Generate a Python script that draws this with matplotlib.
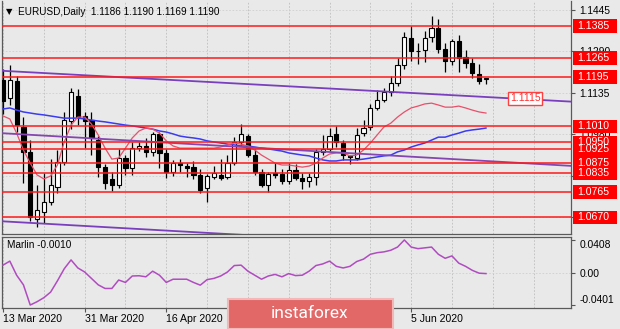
import matplotlib
matplotlib.use("Agg")
import matplotlib.pyplot as plt
import matplotlib.transforms as mtrans
from matplotlib.patches import Rectangle
import numpy as np

plt.rcParams['font.family'] = ['Liberation Sans', 'DejaVu Sans']

# ---- data (EURUSD daily, 13 Mar .. 22 Jun 2020) ----
date_labels = ["13 Mar 2020", "31 Mar 2020", "16 Apr 2020", "", "", "5 Jun 2020"]
date_bars = [0, 12, 24, 36, 48, 60]

opens = [1.1185, 1.1115, 1.1178, 1.1009, 1.0915, 1.0665, 1.0689, 1.0727, 1.0785, 1.0877,
         1.1030, 1.1122, 1.1050, 1.1035, 1.0960, 1.0858, 1.0813, 1.0791, 1.0892, 1.0855,
         1.0930, 1.0937, 1.0913, 1.0982, 1.0911, 1.0838, 1.0874, 1.0862, 1.0858, 1.0828,
         1.0780, 1.0822, 1.0830, 1.0821, 1.0874, 1.0952, 1.0975, 1.0904, 1.0840, 1.0790,
         1.0836, 1.0832, 1.0805, 1.0847, 1.0818, 1.0805, 1.0820, 1.0915, 1.0926, 1.0980,
         1.0949, 1.0900, 1.0892, 1.0986, 1.1009, 1.1080, 1.1110, 1.1137, 1.1174, 1.1238,
         1.1340, 1.1293, 1.1295, 1.1345, 1.1377, 1.1300, 1.1255, 1.1328, 1.1268, 1.1246,
         1.1204, 1.1186]
highs = [1.1225, 1.1240, 1.1197, 1.1046, 1.0960, 1.0790, 1.0836, 1.0890, 1.0922, 1.1065,
         1.1155, 1.1148, 1.1065, 1.1065, 1.0975, 1.0870, 1.0840, 1.0925, 1.0905, 1.0952,
         1.0950, 1.0967, 1.0990, 1.0990, 1.0925, 1.0885, 1.0890, 1.0875, 1.0880, 1.0850,
         1.0832, 1.0862, 1.0889, 1.0905, 1.0972, 1.1020, 1.0980, 1.0925, 1.0850, 1.0840,
         1.0875, 1.0850, 1.0875, 1.0870, 1.0835, 1.0835, 1.0925, 1.0978, 1.1005, 1.1010,
         1.0960, 1.0905, 1.1005, 1.1035, 1.1092, 1.1145, 1.1155, 1.1197, 1.1265, 1.1362,
         1.1385, 1.1320, 1.1365, 1.1422, 1.1410, 1.1320, 1.1335, 1.1352, 1.1295, 1.1265,
         1.1242, 1.1190]
lows = [1.1055, 1.1090, 1.0990, 1.0800, 1.0655, 1.0636, 1.0648, 1.0716, 1.0761, 1.0865,
        1.1000, 1.1016, 1.0930, 1.0904, 1.0821, 1.0778, 1.0768, 1.0780, 1.0828, 1.0830,
        1.0920, 1.0897, 1.0900, 1.0855, 1.0818, 1.0825, 1.0840, 1.0822, 1.0815, 1.0760,
        1.0727, 1.0812, 1.0810, 1.0815, 1.0865, 1.0940, 1.0895, 1.0830, 1.0782, 1.0766,
        1.0818, 1.0795, 1.0795, 1.0810, 1.0775, 1.0785, 1.0790, 1.0905, 1.0920, 1.0935,
        1.0885, 1.0870, 1.0885, 1.0975, 1.0995, 1.1070, 1.1100, 1.1125, 1.1160, 1.1225,
        1.1255, 1.1245, 1.1250, 1.1325, 1.1285, 1.1215, 1.1240, 1.1215, 1.1230, 1.1190,
        1.1168, 1.1169]
closes = [1.1105, 1.1185, 1.1016, 1.0915, 1.0670, 1.0697, 1.0727, 1.0791, 1.0877, 1.1035,
          1.1140, 1.1046, 1.1031, 1.0967, 1.0858, 1.0800, 1.0791, 1.0892, 1.0855, 1.0930,
          1.0937, 1.0913, 1.0982, 1.0910, 1.0840, 1.0874, 1.0865, 1.0856, 1.0828, 1.0772,
          1.0826, 1.0835, 1.0818, 1.0874, 1.0952, 1.0982, 1.0904, 1.0838, 1.0790, 1.0832,
          1.0830, 1.0805, 1.0847, 1.0818, 1.0805, 1.0821, 1.0915, 1.0926, 1.0975, 1.0950,
          1.0902, 1.0895, 1.0979, 1.1005, 1.1080, 1.1110, 1.1140, 1.1174, 1.1238, 1.1343,
          1.1291, 1.1290, 1.1340, 1.1377, 1.1300, 1.1255, 1.1328, 1.1265, 1.1246, 1.1208,
          1.1180, 1.1190]

# moving averages
ma_fast = [1.1049, 1.1038, 1.0985, 1.0922, 1.0873, 1.0829, 1.0814, 1.0825, 1.0866, 1.0952,
           1.1015, 1.1045, 1.1045, 1.1019, 1.0978, 1.0929, 1.0888, 1.0892, 1.0929, 1.0967,
           1.0993, 1.1004, 1.1000, 1.0985, 1.0956, 1.0937, 1.0929, 1.0929, 1.0929, 1.0929,
           1.0929, 1.0929, 1.0933, 1.0941, 1.0948, 1.0944, 1.0937, 1.0922, 1.0903, 1.0888,
           1.0873, 1.0866, 1.0866, 1.0862, 1.0858, 1.0862, 1.0873, 1.0892, 1.0907, 1.0911,
           1.0911, 1.0900, 1.0903, 1.0922, 1.0948, 1.0978, 1.1008, 1.1022, 1.1045, 1.1064,
           1.1079, 1.1086, 1.1094, 1.1097, 1.1090, 1.1082, 1.1082, 1.1086, 1.1079, 1.1071,
           1.1064, 1.1060]
ma_slow = [1.1075, 1.1079, 1.1071, 1.1064, 1.1060, 1.1056, 1.1053, 1.1049, 1.1045, 1.1041,
           1.1041, 1.1041, 1.1038, 1.1034, 1.1030, 1.1027, 1.1023, 1.1019, 1.1015, 1.1012,
           1.1008, 1.1004, 1.1000, 1.0993, 1.0989, 1.0982, 1.0974, 1.0970, 1.0967, 1.0963,
           1.0956, 1.0952, 1.0948, 1.0944, 1.0941, 1.0937, 1.0937, 1.0933, 1.0929, 1.0926,
           1.0922, 1.0918, 1.0911, 1.0907, 1.0903, 1.0900, 1.0892, 1.0885, 1.0881, 1.0881,
           1.0885, 1.0885, 1.0885, 1.0888, 1.0892, 1.0896, 1.0900, 1.0903, 1.0915, 1.0922,
           1.0933, 1.0941, 1.0948, 1.0959, 1.0970, 1.0970, 1.0978, 1.0985, 1.0993, 1.0997,
           1.1000, 1.1004]

# Marlin oscillator
marlin = [0.0095, 0.0145, -0.0030, -0.0150, -0.0401, -0.0360, -0.0310, -0.0240, -0.0100, 0.0050,
          0.0160, 0.0060, 0.0010, -0.0070, -0.0150, -0.0195, -0.0195, -0.0090, -0.0120, -0.0040,
          -0.0037, -0.0050, 0.0020, -0.0030, -0.0120, -0.0080, -0.0080, -0.0080, -0.0120, -0.0154,
          -0.0085, -0.0070, -0.0040, 0.0010, 0.0090, 0.0095, 0.0020, -0.0030, -0.0080, -0.0040,
          -0.0020, -0.0050, -0.0010, -0.0035, -0.0030, 0.0020, 0.0090, 0.0110, 0.0145, 0.0080,
          0.0060, 0.0080, 0.0140, 0.0170, 0.0230, 0.0250, 0.0260, 0.0280, 0.0320, 0.0408,
          0.0320, 0.0300, 0.0310, 0.0320, 0.0230, 0.0180, 0.0210, 0.0120, 0.0080, 0.0030,
          -0.0005, -0.0010]

levels = [1.1385, 1.1265, 1.1195, 1.1010, 1.0950, 1.0925, 1.0875, 1.0835, 1.0765, 1.0670]
price_ticks = [1.1445, 1.1290, 1.1135, 1.0980, 1.0825, 1.0670]
price_tick_labels = ["1.1445", "1.1290", "1.1135", "1.0980", "", ""]  # last two sit under red labels
marlin_ticks = [0.0408, 0.00, -0.0401]

trend_bars = [-1, 84]
trend_upper = [1.1219, 1.1102]
trend_mid = [1.0986, 1.0862]
trend_low = [1.0657, 1.0535]
trend_value = 1.1115

# ---- figure ----
W, H = 620, 329
BG = "#e9e9e9"
fig = plt.figure(figsize=(W / 100, H / 100), dpi=100, facecolor=BG)
ax = fig.add_axes([2 / W, 1 - 234 / H, 569 / W, 233 / H], facecolor=BG)
ax2 = fig.add_axes([2 / W, 1 - 308 / H, 569 / W, 71 / H], facecolor=BG)

bars = np.arange(len(opens))
o, h, l, c = map(np.array, (opens, highs, lows, closes))
up = c >= o

# grid
for b in range(0, 84, 6):
    ax.axvline(b, color="#bdbdbd", lw=0.6, dashes=(2, 2), zorder=1)
    ax2.axvline(b, color="#bdbdbd", lw=0.6, dashes=(2, 2), zorder=1)
for p in price_ticks:
    ax.axhline(p, color="#cfcfcf", lw=0.6, dashes=(2, 2), zorder=1)
ax2.axhline(0, color="#cfcfcf", lw=0.6, dashes=(2, 2), zorder=1)

# candles
ax.vlines(bars, l, h, color="black", lw=0.9, zorder=2)
body_lo = np.minimum(o, c)
body_h = np.maximum(np.abs(c - o), 0.00008)
ax.bar(bars[up], body_h[up], bottom=body_lo[up], width=0.62, color="white",
       edgecolor="black", lw=0.8, zorder=3)
ax.bar(bars[~up], body_h[~up], bottom=body_lo[~up], width=0.62, color="black",
       edgecolor="black", lw=0.8, zorder=3)

# moving averages
ax.plot(bars, ma_slow, color="#3b3bf2", lw=1.1, zorder=4)
ax.plot(bars, ma_fast, color="#e8506a", lw=0.9, zorder=4)

# trend lines
ax.plot(trend_bars, trend_upper, color="#7a3fbd", lw=1.3, zorder=4)
ax.plot(trend_bars, trend_mid, color="#8646b0", lw=1.3, zorder=4)
ax.plot(trend_bars, trend_low, color="#7a3fbd", lw=1.3, zorder=4)

# horizontal levels
for lv in levels:
    ax.axhline(lv, color="#ff1a1a", lw=1.1, zorder=5)

tr = mtrans.blended_transform_factory(ax.transAxes, ax.transData)
box_h = 0.0051
for lv in levels:
    ax.add_patch(Rectangle((1.0035, lv - box_h / 2), 0.0775, box_h, transform=tr,
                           facecolor="#ff0000", edgecolor="none", clip_on=False, zorder=6))
    ax.text(1.0105, lv, f"{lv:.4f}", transform=tr, color="white", fontsize=7.6,
            va="center", ha="left", clip_on=False, zorder=7)

ax.text(76.8, trend_value, f"{trend_value:.4f}", color="#ff3030", fontsize=7.6,
        ha="center", va="center", zorder=8,
        bbox=dict(boxstyle="square,pad=0.15", fc="white", ec="#ff4040", lw=1))

ax.set_xlim(-0.15, 83.5)
ax.set_ylim(1.06083, 1.14784)
ax.set_xticks([])
ax.yaxis.tick_right()
ax.set_yticks(price_ticks)
ax.set_yticklabels(price_tick_labels)
ax.tick_params(axis="y", length=3, width=0.8, color="#555555", labelsize=7.4, pad=3)
for s in ax.spines.values():
    s.set_color("#5a5a5a")
    s.set_linewidth(0.9)
ax.spines["top"].set_visible(False)

# ---- Marlin panel ----
ax2.plot(bars, marlin, color="#b04cc0", lw=1.1, zorder=3)
ax2.set_xlim(-0.15, 83.5)
ax2.set_ylim(-0.0438, 0.0445)
ax2.yaxis.tick_right()
ax2.set_yticks(marlin_ticks)
ax2.set_yticklabels(["0.0408", "0.00", "-0.0401"])
ylabels = ax2.get_yticklabels()
ylabels[0].set_va("top")
ylabels[2].set_va("bottom")
ax2.set_xticks(date_bars)
ax2.set_xticklabels(date_labels)
for lbl in ax2.get_xticklabels():
    lbl.set_ha("left")
ax2.tick_params(axis="y", length=3, width=0.8, color="#555555", labelsize=7.4, pad=3)
ax2.tick_params(axis="x", length=3, width=0.8, color="#555555", labelsize=7.6, pad=1.5)
for s in ax2.spines.values():
    s.set_color("#5a5a5a")
    s.set_linewidth(0.9)
ax2.text(5 / 569, 1 - 8 / 71, "Marlin -0.0010", transform=ax2.transAxes,
         fontsize=7.2, va="center", ha="left")

# header
fig.text(6 / W, 1 - 12 / H, "\u25bc", fontsize=6, va="center", ha="left",
         family=["DejaVu Sans"])
fig.text(18 / W, 1 - 12 / H, "EURUSD,Daily  1.1186 1.1190 1.1169 1.1190",
         fontsize=7.2, va="center", ha="left")

# watermark
fig.add_artist(Rectangle((228 / W, 0), 165 / W, 30 / H, transform=fig.transFigure,
                         facecolor="#e26868", edgecolor="#f2b8b8", lw=1.5, zorder=10))
fig.text(310 / W, 1 - 313 / H, "instaforex", color="white", fontsize=12.5,
         family=["Roboto", "DejaVu Sans"], ha="center", va="center", zorder=11)

fig.savefig("out.png", dpi=100, facecolor=BG)
